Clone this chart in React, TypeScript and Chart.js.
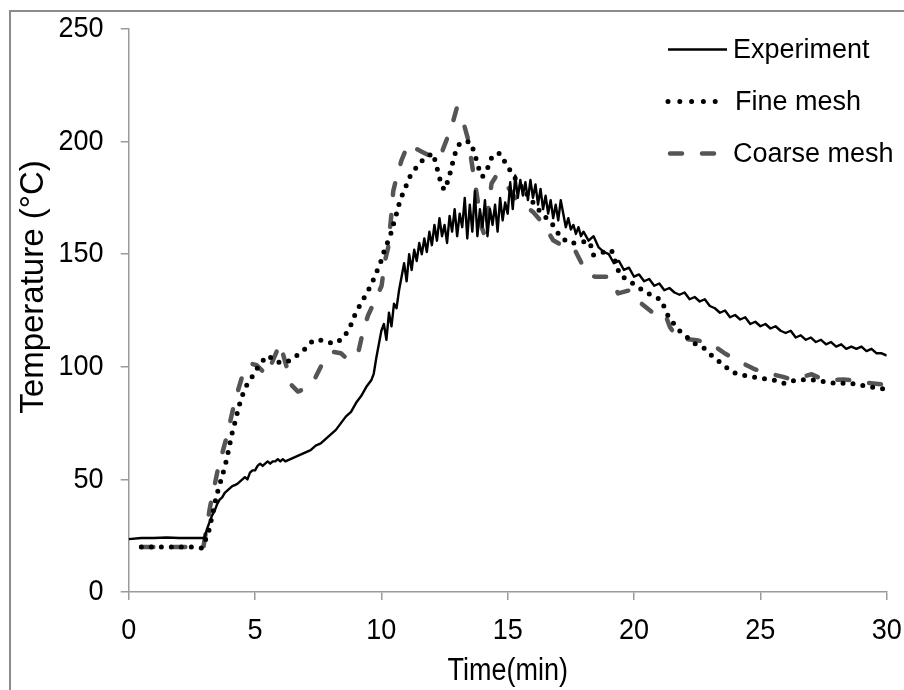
import React, { useEffect, useRef } from 'react';
import { Chart, registerables } from 'chart.js';

Chart.register(...registerables);

const FONT = "'Liberation Sans', Arial, Helvetica, sans-serif";

const seriesNames = ['Experiment', 'Fine mesh', 'Coarse mesh'];
const xTitle = 'Time(min)';
const yTitle = 'Temperature (°C)';
const xRange = [0, 30];
const yRange = [0, 250];
const xStep = 5;
const yStep = 50;

// Experiment (thermocouple reading)
const expTime = [
  0, 0.5, 1, 1.5, 2, 2.5, 3.0,
  3.1, 3.2, 3.3, 3.4, 3.5, 3.6, 3.7, 3.8, 3.9, 4.0,
  4.1, 4.2, 4.3, 4.4, 4.5, 4.6, 4.7, 4.8, 4.9, 5.0,
  5.1, 5.2, 5.3, 5.4, 5.5, 5.6, 5.7, 5.8, 5.9, 6.0,
  6.1, 6.2, 6.4, 6.6, 6.8, 7.0, 7.2, 7.4, 7.6, 7.8,
  8.0, 8.2, 8.4, 8.6, 8.8, 9.0, 9.2, 9.4, 9.6, 9.7,
  9.8, 9.9, 10.0, 10.1, 10.2, 10.3, 10.4, 10.5, 10.6, 10.7,
  10.8, 10.9, 11.0, 11.1, 11.2, 11.3, 11.4, 11.5, 11.6, 11.7,
  11.8, 11.9, 12.0, 12.1, 12.2, 12.3, 12.4, 12.5, 12.6, 12.7,
  12.8, 12.9, 13.0, 13.1, 13.2, 13.3, 13.4, 13.5, 13.6, 13.7,
  13.8, 13.9, 14.0, 14.1, 14.2, 14.3, 14.4, 14.5, 14.6, 14.7,
  14.8, 14.9, 15.0, 15.1, 15.2, 15.3, 15.4, 15.5, 15.6, 15.7,
  15.8, 15.9, 16.0, 16.1, 16.2, 16.3, 16.4, 16.5, 16.6, 16.7,
  16.8, 16.9, 17.0, 17.1, 17.2, 17.3, 17.4, 17.5, 17.6, 17.7,
  17.8, 17.9, 18.0, 18.2, 18.4, 18.6, 18.8, 19.0, 19.2, 19.4,
  19.6, 19.8, 20.0, 20.2, 20.4, 20.6, 20.8, 21.0, 21.2, 21.4,
  21.6, 21.8, 22.0, 22.2, 22.4, 22.6, 22.8, 23.0, 23.2, 23.4,
  23.6, 23.8, 24.0, 24.2, 24.4, 24.6, 24.8, 25.0, 25.2, 25.4,
  25.6, 25.8, 26.0, 26.2, 26.4, 26.6, 26.8, 27.0, 27.2, 27.4,
  27.6, 27.8, 28.0, 28.2, 28.4, 28.6, 28.8, 29.0, 29.2, 29.4,
  29.6, 29.8, 30.0,
];
const expTemp = [
  23.5, 24, 24, 24.2, 24, 24, 24,
  28, 31, 34, 36, 39, 41, 42, 44, 45, 46,
  47, 47.5, 48, 49, 50, 51, 50, 53, 54, 54,
  56, 57, 56, 57, 58, 57, 58, 58, 59, 58,
  59, 58, 59, 60, 61, 62, 63, 65, 66, 68,
  70, 72, 75, 78, 80, 84, 87, 91, 94, 97,
  104, 110, 116, 119, 112, 124, 118, 128, 126, 134,
  140, 146, 138, 150, 143, 152, 147, 155, 150, 157,
  151, 160, 154, 163, 156, 166, 158, 163, 155, 167,
  160, 170, 158, 168, 162, 175, 157, 172, 160, 178,
  158, 170, 162, 174, 158, 170, 163, 172, 160, 175,
  165, 173, 168, 182, 170, 185, 175, 183, 176, 182,
  174, 183, 175, 181, 172, 179, 170, 176, 168, 174,
  166, 172, 165, 174, 168, 162, 166, 161, 163, 159,
  162, 158, 160, 156, 158, 153, 151, 150, 146, 147,
  143, 144, 140, 141, 138, 139, 136, 137, 134, 135,
  133, 132, 133, 130, 131, 129, 130, 127, 126, 124,
  125, 122, 123, 121, 122, 119, 120, 118, 119, 117,
  118, 116, 115, 116, 113, 114, 112, 113, 111, 112,
  110, 111, 109, 110, 108, 109, 108, 109, 107, 108,
  106, 106, 105,
];

// Fine mesh simulation
const fineTime = [
  0.5, 1, 1.5, 2, 2.5, 2.9, 3.15, 3.48, 3.74, 3.88,
  4.08, 4.21, 4.34, 4.47, 4.67, 4.93, 5.2, 5.52, 5.86, 6.25,
  6.65, 6.98, 7.3, 7.7, 8.1, 8.49, 8.76, 8.95, 9.15, 9.42,
  9.62, 9.81, 10.0, 10.14, 10.34, 10.47, 10.6, 10.74, 10.93, 11.13,
  11.4, 11.73, 12.05, 12.19, 12.32, 12.48, 12.66, 12.78, 12.91, 13.11,
  13.5, 13.7, 13.8, 14.0, 14.23, 14.4, 14.69, 14.96, 15.22, 15.6,
  16.2, 16.87, 17.07, 17.46, 18.0, 18.25, 18.39, 18.8, 19.11, 19.44,
  19.77, 20.43, 21.09, 21.29, 21.7, 22.08, 22.41, 22.81, 23.13, 23.5,
  23.86, 24.26, 24.72, 25.11, 25.58, 25.97, 26.37, 26.83, 27.25, 27.69,
  28.15, 28.54, 29.0, 29.4, 30,
];
const fineTemp = [
  20, 20, 20, 20, 20, 19.5, 26, 43, 53, 59,
  70, 75.5, 81.5, 86.6, 91.8, 96.3, 101.5, 105, 102, 102,
  105, 108, 111.8, 111.8, 110.3, 112.6, 117.7, 123, 127.4, 132.6,
  137, 142, 147.3, 152.5, 157.7, 163, 168, 174, 179, 184.4,
  188.8, 193, 194.8, 188.8, 183.2, 178.5, 183.2, 188.8, 194.4, 199.5,
  200, 194.8, 189.6, 184.4, 188.8, 194, 194.8, 189.6, 185, 179,
  170, 162, 157.7, 154.8, 155.5, 155.5, 149.6, 151, 151.8, 140.7,
  138.5, 133.3, 129.6, 123.7, 117, 113.3, 110.3, 108, 104.4, 101.2,
  97.7, 96.3, 95.5, 94.8, 94, 92.6, 94, 94.4, 94, 93,
  92.6, 92.8, 91.8, 91, 90,
];

// Coarse mesh simulation
const coarseTime = [
  0.5, 1, 1.5, 2, 2.5, 2.95, 3.22, 3.55, 3.88, 4.21,
  4.5, 4.8, 5.07, 5.46, 5.75, 5.99, 6.2, 6.45, 6.7, 6.98,
  7.37, 7.7, 8.1, 8.4, 8.7, 9.09, 9.3, 9.48, 9.81, 10.01,
  10.14, 10.27, 10.4, 10.47, 10.6, 10.8, 11.07, 11.35, 11.6, 12.12,
  12.35, 12.52, 12.78, 12.98, 13.24, 13.44, 13.64, 13.77, 13.97, 14.1,
  14.36, 14.56, 14.8, 15.09, 15.35, 16.0, 16.4, 16.8, 17.14, 17.4,
  17.66, 17.93, 18.2, 18.45, 18.98, 19.2, 19.37, 19.84, 20.3, 20.7,
  21.0, 21.22, 21.42, 21.7, 21.88, 22.48, 22.8, 23.13, 23.6, 23.9,
  24.19, 24.72, 25.0, 25.35, 25.9, 26.2, 26.43, 27.03, 27.35, 27.69,
  28.28, 28.6, 28.94, 29.47, 30,
];
const coarseTemp = [
  20, 20, 20, 20, 20, 19.5, 37.8, 55.5, 68.9, 85.2,
  96, 101.5, 100.7, 96.3, 104, 110.3, 102, 91.8, 89, 90.3,
  94.8, 102.2, 106.6, 106, 103, 106.6, 117, 123, 131, 136,
  147, 153, 168, 178, 184, 191.8, 199, 197, 195.5, 192.5,
  194, 199, 206.6, 214.7, 208.8, 200.7, 186, 177, 162, 158,
  181.4, 185, 183, 178.5, 174, 168.8, 163.6, 156.2, 154, 154,
  151.8, 145.9, 141, 140, 140, 136, 132.6, 134, 128, 124.4,
  124, 123.7, 117.7, 113, 112.6, 111.8, 111, 109.6, 105.9, 104,
  102.2, 99.2, 98, 97, 95.5, 94.5, 94.8, 96.7, 95, 94,
  94.4, 94, 93.3, 92.6, 92,
];

const toPoints = (xs: number[], ys: number[]) => xs.map((x, i) => ({ x, y: ys[i] }));

// draws text horizontally condensed (the original uses a narrow face)
function narrowText(
  ctx: CanvasRenderingContext2D,
  text: string,
  x: number,
  y: number,
  align: CanvasTextAlign,
  squeeze: number
) {
  ctx.save();
  ctx.translate(x, y);
  ctx.scale(squeeze, 1);
  ctx.textAlign = align;
  ctx.fillText(text, 0, 0);
  ctx.restore();
}

const decorPlugin = {
  id: 'decor',
  afterDraw(chart: any) {
    const ctx: CanvasRenderingContext2D = chart.ctx;
    const xs = chart.scales.x;
    const ys = chart.scales.y;
    ctx.save();
    // outer frame (left + top visible)
    ctx.strokeStyle = '#8c8c8c';
    ctx.lineWidth = 2;
    ctx.setLineDash([]);
    ctx.beginPath();
    ctx.moveTo(10, 690);
    ctx.lineTo(10, 11);
    ctx.lineTo(904, 11);
    ctx.stroke();

    // tick labels, taken from the library's own scales
    ctx.fillStyle = '#000';
    ctx.textBaseline = 'middle';
    ctx.font = `30px ${FONT}`;
    xs.ticks.forEach((t: any) => {
      narrowText(ctx, String(t.label), xs.getPixelForValue(t.value), 630.5, 'center', 0.9);
    });
    ys.ticks.forEach((t: any) => {
      narrowText(ctx, String(t.label), 103.5, ys.getPixelForValue(t.value), 'right', 0.9);
    });

    // axis titles
    ctx.font = `31px ${FONT}`;
    narrowText(ctx, xTitle, (xs.left + xs.right) / 2, 671, 'center', 0.87);
    ctx.save();
    ctx.font = `33px ${FONT}`;
    ctx.textAlign = 'center';
    ctx.translate(34, 287);
    ctx.rotate(-Math.PI / 2);
    ctx.fillText(yTitle, 0, 0);
    ctx.restore();

    // legend
    const x0 = 668;
    const x1 = 727;
    ctx.font = `27px ${FONT}`;
    ctx.textAlign = 'left';
    chart.data.datasets.forEach((ds: any, i: number) => {
      const y = 49.5 + i * 52;
      ctx.save();
      ctx.strokeStyle = ds.borderColor;
      ctx.lineWidth = ds.borderWidth;
      ctx.lineCap = ds.borderCapStyle || 'butt';
      if (i === 1) ctx.setLineDash([0, 11.8]);
      else if (i === 2) ctx.setLineDash([12, 20]);
      else ctx.setLineDash([]);
      ctx.beginPath();
      ctx.moveTo(i === 2 ? 670 : x0, y);
      ctx.lineTo(x1, y);
      ctx.stroke();
      ctx.restore();
      ctx.fillStyle = '#000';
      ctx.fillText(ds.label, i === 1 ? 735 : 733, y + 1.5);
    });
    ctx.restore();
  },
};

export default function App() {
  const ref = useRef<HTMLCanvasElement | null>(null);
  useEffect(() => {
    if (!ref.current) return;
    const axisColor = '#9a9a9a';
    const chart = new Chart(ref.current, {
      type: 'line',
      data: {
        datasets: [
          {
            label: seriesNames[0],
            data: toPoints(expTime, expTemp),
            borderColor: '#000000',
            borderWidth: 2.4,
            borderJoinStyle: 'round',
            borderCapStyle: 'butt',
            pointRadius: 0,
            tension: 0,
            fill: false,
          },
          {
            label: seriesNames[1],
            data: toPoints(fineTime, fineTemp),
            borderColor: '#000000',
            borderWidth: 5,
            borderDash: [0, 10],
            borderCapStyle: 'round',
            borderJoinStyle: 'round',
            pointRadius: 0,
            tension: 0,
            fill: false,
          },
          {
            label: seriesNames[2],
            data: toPoints(coarseTime, coarseTemp),
            borderColor: '#555555',
            borderWidth: 4.5,
            borderDash: [12, 20],
            borderCapStyle: 'round',
            borderJoinStyle: 'round',
            pointRadius: 0,
            tension: 0,
            fill: false,
          },
        ],
      },
      options: {
        responsive: false,
        animation: false,
        events: [],
        layout: { padding: { left: 0, right: 17.3, top: 29, bottom: 0 } },
        plugins: {
          legend: { display: false },
          tooltip: { enabled: false },
        },
        scales: {
          x: {
            type: 'linear',
            min: xRange[0],
            max: xRange[1],
            ticks: {
              stepSize: xStep,
              display: false,
              autoSkip: false,
            },
            grid: {
              drawOnChartArea: false,
              drawTicks: true,
              tickLength: 8,
              color: axisColor,
              lineWidth: 1.5,
            },
            border: { display: true, color: axisColor, width: 1.5 },
            afterFit: (s: any) => {
              s.height = 98;
            },
          },
          y: {
            type: 'linear',
            min: yRange[0],
            max: yRange[1],
            ticks: {
              stepSize: yStep,
              display: false,
            },
            grid: {
              drawOnChartArea: false,
              drawTicks: true,
              tickLength: 8,
              color: axisColor,
              lineWidth: 1.5,
            },
            border: { display: true, color: axisColor, width: 1.5 },
            afterFit: (s: any) => {
              s.width = 128.7;
            },
          },
        },
      },
      plugins: [decorPlugin],
    });
    return () => chart.destroy();
  }, []);
  return (
    <div style={{ position: 'fixed', left: 0, top: 0, width: 904, height: 690, background: '#fff' }}>
      <canvas ref={ref} width={904} height={690} style={{ display: 'block' }} />
    </div>
  );
}
